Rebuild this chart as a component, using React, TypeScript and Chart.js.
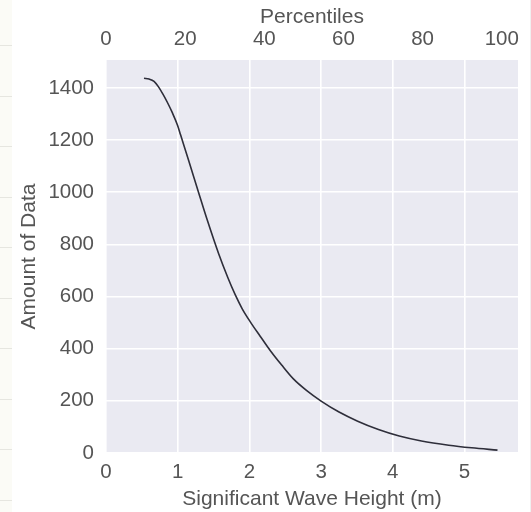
import React, { useEffect, useRef } from "react";
import { Chart, registerables } from "chart.js";

Chart.register(...registerables);

const waveHeight: number[] = [0.53, 0.6, 0.67, 0.73, 0.79, 0.855, 0.925, 1.0, 1.04, 1.155, 1.29, 1.41, 1.57, 1.7, 1.8, 1.9, 2.01, 2.15, 2.29, 2.45, 2.61, 2.8, 3.0, 3.25, 3.51, 3.8, 4.09, 4.4, 4.78, 5.1, 5.46];
const amountOfData: number[] = [1437, 1434, 1425, 1405, 1378, 1345, 1305, 1255, 1220, 1120, 1000, 895, 765, 672, 608, 553, 504, 448, 393, 337, 285, 239, 199, 157, 122, 90, 65, 46, 30, 20, 11];

const xTitle = "Significant Wave Height (m)";
const yTitle = "Amount of Data";
const topTitle = "Percentiles";

const X_MAX = 5.746;
const Y_MAX = 1507;
const PCT_MAX = 104.1;

const FAMILY = "'Liberation Sans', Arial, sans-serif";
const TICK_FONT = { family: FAMILY, size: 20.5 };
const TITLE_FONT = { family: FAMILY, size: 21 };
const TEXT = "#555555";

const bgPlugin = {
  id: "bgPlugin",
  beforeDraw(chart: any) {
    const { ctx, chartArea, width, height } = chart;
    ctx.save();
    ctx.fillStyle = "#ffffff";
    ctx.fillRect(0, 0, width, height);
    ctx.fillStyle = "#fbfbf6";
    ctx.fillRect(0, 0, 12, height);
    ctx.strokeStyle = "#e6e6e0";
    ctx.lineWidth = 1;
    for (let y = 45; y < height; y += 50.5) {
      ctx.beginPath();
      ctx.moveTo(0, Math.round(y) + 0.5);
      ctx.lineTo(12, Math.round(y) + 0.5);
      ctx.stroke();
    }
    ctx.strokeStyle = "#f0f0f0";
    ctx.beginPath();
    ctx.moveTo(530.5, 0);
    ctx.lineTo(530.5, height);
    ctx.stroke();
    ctx.fillStyle = "#EAEAF2";
    ctx.fillRect(chartArea.left, chartArea.top, chartArea.right - chartArea.left, chartArea.bottom - chartArea.top);
    ctx.restore();
  },
};

export default function App() {
  const ref = useRef<HTMLCanvasElement | null>(null);
  useEffect(() => {
    if (!ref.current) return;
    const chart = new Chart(ref.current, {
      type: "line",
      data: {
        datasets: [
          {
            data: waveHeight.map((x, i) => ({ x, y: amountOfData[i] })),
            xAxisID: "x",
            yAxisID: "y",
            borderColor: "#2e2e3a",
            borderWidth: 1.6,
            pointRadius: 0,
            cubicInterpolationMode: "monotone",
            fill: false,
          },
        ],
      },
      options: {
        responsive: false,
        animation: false,
        layout: { padding: { left: 0, top: 0, right: 13, bottom: 0 } },
        plugins: { legend: { display: false }, tooltip: { enabled: false } },
        scales: {
          x: {
            type: "linear",
            position: "bottom",
            min: 0,
            max: X_MAX,
            ticks: { stepSize: 1, includeBounds: false, font: TICK_FONT, color: TEXT, padding: 7, maxRotation: 0 },
            grid: { color: "#ffffff", lineWidth: 1.6, drawTicks: false },
            border: { display: false },
            title: { display: true, text: xTitle, font: TITLE_FONT, color: TEXT, padding: { top: 0, bottom: 0 } },
            afterFit: (s: any) => { s.height = 59; },
          },
          x2: {
            type: "linear",
            position: "top",
            min: 0,
            max: PCT_MAX,
            ticks: { stepSize: 20, includeBounds: false, font: TICK_FONT, color: TEXT, padding: 0, maxRotation: 0 },
            grid: { display: false },
            border: { display: false },
            title: { display: true, text: topTitle, font: TITLE_FONT, color: TEXT, padding: { top: 4.5, bottom: 0 } },
            afterFit: (s: any) => { s.height = 60; },
          },
          y: {
            type: "linear",
            position: "left",
            min: 0,
            max: Y_MAX,
            ticks: { stepSize: 200, includeBounds: false, font: TICK_FONT, color: TEXT, padding: 12, callback: (v: any) => String(v) },
            grid: { color: "#ffffff", lineWidth: 1.6, drawTicks: false },
            border: { display: false },
            title: { display: true, text: yTitle, font: TITLE_FONT, color: TEXT, padding: { top: 17, bottom: 0 } },
            afterFit: (s: any) => { s.width = 106; },
          },
        },
      } as any,
      plugins: [bgPlugin],
    });
    return () => chart.destroy();
  }, []);
  return (
    <div style={{ position: "absolute", left: 0, top: 0, width: 531, height: 512 }}>
      <canvas ref={ref} width={531} height={512} style={{ width: 531, height: 512, display: "block" }} />
    </div>
  );
}
